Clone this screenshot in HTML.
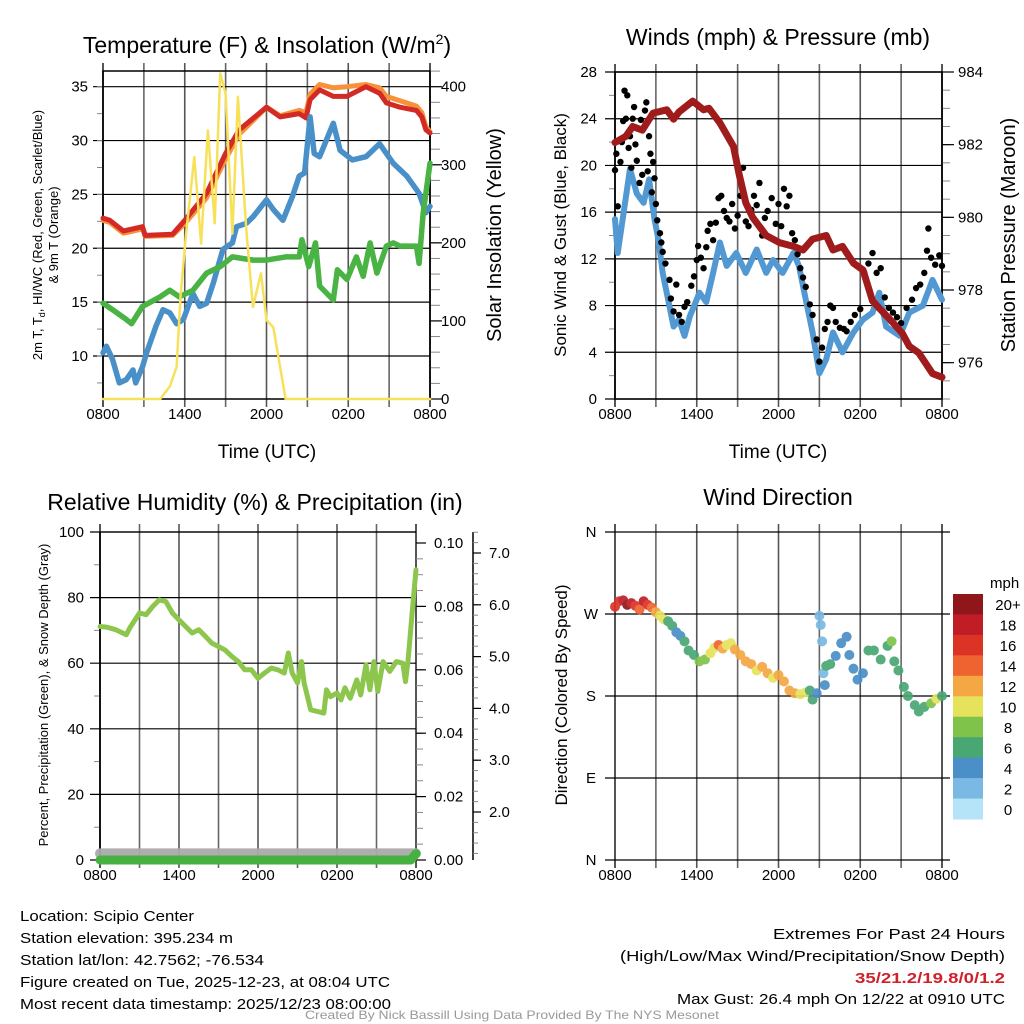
<!DOCTYPE html>
<html><head><meta charset="utf-8"><style>
html,body{margin:0;padding:0;background:#fff;}
svg{display:block;font-family:"Liberation Sans",sans-serif;}
</style></head><body>
<svg id="root" width="1024" height="1024" viewBox="0 0 1024 1024" xmlns="http://www.w3.org/2000/svg">
<g id="texts">
<text x="267" y="53" font-size="23" text-anchor="middle">Temperature (F) &amp; Insolation (W/m<tspan dy="-9" font-size="14">2</tspan><tspan dy="9">)</tspan></text>
<text x="778" y="45" font-size="23" text-anchor="middle">Winds (mph) &amp; Pressure (mb)</text>
<text x="255" y="510" font-size="23" text-anchor="middle">Relative Humidity (%) &amp; Precipitation (in)</text>
<text x="778" y="505" font-size="23" text-anchor="middle">Wind Direction</text>
<text x="267" y="458" font-size="19" text-anchor="middle">Time (UTC)</text>
<text x="778" y="458" font-size="19" text-anchor="middle">Time (UTC)</text>
<text transform="translate(42,235) rotate(-90)" font-size="13" text-anchor="middle">2m T, T<tspan font-size="9" dy="3">d</tspan><tspan dy="-3">, HI/WC (Red, Green, Scarlet/Blue)</tspan></text>
<text transform="translate(58,235) rotate(-90)" font-size="13" text-anchor="middle">&amp; 9m T (Orange)</text>
<text transform="translate(501,235) rotate(-90)" font-size="20" text-anchor="middle">Solar Insolation (Yellow)</text>
<text transform="translate(566,235) rotate(-90)" font-size="17" text-anchor="middle">Sonic Wind &amp; Gust (Blue, Black)</text>
<text transform="translate(1015,235) rotate(-90)" font-size="20" text-anchor="middle">Station Pressure (Maroon)</text>
<text transform="translate(48,695) rotate(-90)" font-size="13" text-anchor="middle">Percent, Precipitation (Green), &amp; Snow Depth (Gray)</text>
<text transform="translate(567,695) rotate(-90)" font-size="17" text-anchor="middle">Direction (Colored By Speed)</text>
<g font-size="15">
<text x="20" y="921" textLength="174" lengthAdjust="spacingAndGlyphs">Location: Scipio Center</text>
<text x="20" y="943" textLength="213" lengthAdjust="spacingAndGlyphs">Station elevation: 395.234 m</text>
<text x="20" y="965" textLength="244" lengthAdjust="spacingAndGlyphs">Station lat/lon: 42.7562; -76.534</text>
<text x="20" y="987" textLength="370" lengthAdjust="spacingAndGlyphs">Figure created on Tue, 2025-12-23, at 08:04 UTC</text>
<text x="20" y="1009" textLength="371" lengthAdjust="spacingAndGlyphs">Most recent data timestamp: 2025/12/23 08:00:00</text>
</g>
<g font-size="15" text-anchor="end">
<text x="1005" y="939" textLength="232" lengthAdjust="spacingAndGlyphs">Extremes For Past 24 Hours</text>
<text x="1005" y="961" textLength="385" lengthAdjust="spacingAndGlyphs">(High/Low/Max Wind/Precipitation/Snow Depth)</text>
<text x="1005" y="983" fill="#d0212a" font-weight="bold" textLength="150" lengthAdjust="spacingAndGlyphs">35/21.2/19.8/0/1.2</text>
<text x="1005" y="1004" textLength="328" lengthAdjust="spacingAndGlyphs">Max Gust: 26.4 mph On 12/22 at 0910 UTC</text>
</g>
<text x="512" y="1019" font-size="12" fill="#999" text-anchor="middle" textLength="414" lengthAdjust="spacingAndGlyphs">Created By Nick Bassill Using Data Provided By The NYS Mesonet</text>
</g>
</svg>
<script>
// ---------- data ----------
const xTickHours=[0,6,12,18,24];
const xTickLabels=["0800","1400","2000","0200","0800"];
const tempTicks=[10,15,20,25,30,35];
const solarTicks=[0,100,200,300,400];
const windTicks=[0,4,8,12,16,20,24,28];
const presTicks=[976,978,980,982,984];
const rhTicks=[0,20,40,60,80,100];
const precipTicks=["0.00","0.02","0.04","0.06","0.08","0.10"];
const snowTicks=["2.0","3.0","4.0","5.0","6.0","7.0"];
const dirTicks=["N","E","S","W","N"];

const redH=[0,0.5,1.5,2.9,3.1,5.1,6,7.6,9,10,12,13,14.4,14.9,15.2,15.9,16.9,17.9,19.3,20.3,20.8,21.8,23,23.4,23.7,24];
const redT=[22.8,22.6,21.6,22.0,21.2,21.3,22.6,25.1,28.8,31,33.1,32.2,32.5,32.1,33.8,34.7,34.1,34.1,35,34.4,33.5,33.1,32.8,32.2,31,30.7];
const orH=[0,0.5,1.5,2.9,3.1,5.1,6,7.6,9,10,12,13,14.4,14.9,15.2,15.9,16.9,17.9,19.3,20.3,20.8,21.8,23,23.4,23.7,24];
const orT=[22.6,22.4,21.4,21.8,21.1,21.2,22.3,24.7,28.3,30.6,33.1,32.3,32.8,32.6,34.3,35.2,34.9,35,35.2,34.9,34.1,33.7,33.2,32.6,31.3,30.8];
const dewH=[0,0.25,0.7,1.2,1.7,2.2,2.4,2.9,3.2,3.9,4.4,4.9,5.4,5.9,6.6,7.1,7.6,8.1,8.8,9.5,9.8,10.5,11,12,12.5,13.2,13.9,14.4,14.8,15.2,15.5,15.9,16.9,17.4,18.3,19.3,20.3,21.3,22.3,23.2,23.7,24];
const dewT=[10.3,10.9,9.7,7.5,7.8,8.7,7.5,9,10.3,12.8,14.3,14,13,13.4,15.8,14.6,14.9,16.8,19.9,20.5,22,22.3,22.9,24.5,23.6,22.6,24.8,26.7,27,32.2,28.8,28.5,31.6,29.1,28.2,28.5,29.7,27.9,26.7,25.1,23.3,23.9];
const hiH=[0,0.7,1.7,2.1,2.9,4.2,4.9,5.6,6.6,7.6,8.6,9.5,11,12,13.4,14.4,14.6,15.1,15.6,15.9,16.9,17.2,17.9,18.6,19.1,19.6,20.1,20.8,21.3,21.8,23,23.2,23.5,24];
const hiT=[14.9,14.3,13.4,13,14.6,15.5,16.1,15.5,16.1,17.7,18.3,19.2,18.9,18.9,19.2,19.2,20.8,18.3,20.5,16.5,15.2,18,17.1,19.2,17.4,20.5,17.7,20.2,20.5,20.2,20.2,18.6,23.3,27.9];
const solH=[0,4.2,4.9,5.4,5.7,6.1,6.7,7.2,7.7,8.2,8.6,9.0,9.5,9.9,10.5,11,11.6,12,12.5,13.4,24];
const solW=[0,0,16,41,135,212,310,199,344,225,417,391,212,387,220,118,161,101,92,0,0];

const presH=[0,0.8,1.3,2,2.8,3.8,4.3,4.7,5.7,6.5,6.9,7.7,8.7,9.1,9.6,10.1,11.1,12.1,13.1,13.8,14.5,15.5,16,16.7,17.5,18.2,18.9,19.4,20.4,21.1,21.6,22.3,23.3,24];
const presMb=[982.06,982.23,982.5,982.4,982.87,982.96,982.7,982.9,983.2,982.96,983,982.6,981.95,981.2,980.4,980.0,979.5,979.3,979.2,979.1,979.4,979.5,979.1,979.2,978.74,978.55,977.7,977.5,977.1,976.8,976.45,976.27,975.7,975.6];
const windH=[0,0.2,0.6,1.1,1.6,2.1,2.5,2.9,3.2,3.5,4.3,4.7,5.1,5.5,6.2,6.7,7.2,7.7,8.2,8.9,9.6,10.4,11.1,11.6,12.3,13.1,13.5,14,14.5,15,15.5,16,16.7,17.5,18.2,18.9,19.4,19.9,20.9,21.6,22.6,23.3,24];
const windMph=[15.4,12.5,15.7,19.7,17.6,16.8,18.8,15.4,13.6,10.8,6.2,6.8,5.4,7.1,9.1,8.3,10.8,13.4,11.4,12.5,10.8,12.8,10.8,11.9,10.8,12.5,11.4,8.5,5.7,2.2,3.4,5.7,4,5.7,6.8,7.4,9.1,6.2,5.4,7.4,8,10.2,8.5];
const gustH=[0,0.1,0.2,0.4,0.5,0.6,0.7,0.8,0.9,1.0,1.1,1.2,1.3,1.4,1.5,1.6,1.8,1.9,2.0,2.2,2.3,2.4,2.5,2.6,2.7,2.8,2.9,3.0,3.1,3.3,3.4,3.5,3.7,4.0,4.1,4.3,4.5,4.7,4.9,5.1,5.3,5.6,5.8,6.0,6.1,6.3,6.5,6.7,6.8,7.0,7.2,7.4,7.6,7.8,8.0,8.2,8.4,8.6,8.8,9.0,9.2,9.4,9.6,9.8,10.0,10.2,10.4,10.6,10.8,11.0,11.2,11.5,11.8,12.0,12.2,12.4,12.6,12.8,13.0,13.2,13.4,13.6,13.8,14.0,14.3,14.5,14.8,15.0,15.2,15.4,15.6,15.8,16.0,16.2,16.5,16.8,17.0,17.3,17.6,18.0,18.3,18.6,18.9,19.2,19.5,19.8,20.1,20.4,20.7,21.0,21.4,21.8,22.1,22.4,22.7,22.9,23.0,23.2,23.5,23.8,24];
const gustMph=[19.6,21,16.5,20.3,22,23.8,26.4,24,26,21.5,22.5,19.8,24,25,21.8,20.4,18.5,23.9,19.2,24.7,25.4,19.5,22.5,21,17.7,20.3,18.9,16.7,15.3,14.2,13.4,12.6,11.6,10.2,8.6,7.5,9.8,7.2,6.6,7.9,8.3,9.7,10.5,11.9,13.1,12.1,11.2,13,14.4,15,13.6,15.1,17.2,17.4,16.1,15.5,15.2,16.7,14.6,15.7,17.4,19.8,15.2,14.8,16.2,17.4,16.6,18.5,14,15.5,16.1,17.2,15,16.7,14.8,18,16.5,17.4,14.2,13.6,12.4,11.2,10.4,9.6,8.1,7.2,5.1,3.2,4.4,6,6.6,8,7.8,6.6,6.1,6,5.8,6.6,7.2,7.7,10.8,11.6,12.5,10.8,11.2,8.7,7.8,7.4,7,6.5,7.8,8.5,9.5,9.8,10.8,12.7,14.6,12.1,11.5,12.3,11.4];

const rhH=[0,0.5,1.2,2,2.3,3,3.5,4,4.5,5,5.5,6,6.5,7,7.5,8,8.5,9,9.5,10,10.5,11,11.5,12,12.5,13,13.5,14,14.3,14.6,15,15.3,15.5,16,16.5,17,17.2,17.5,18,18.3,18.6,19,19.5,19.8,20.2,20.5,20.8,21.1,21.5,22,22.5,23,23.2,23.4,23.7,24];
const rhPct=[71.2,71,70.2,68.7,71,75.3,74.8,77.3,79.3,78.8,75.3,73.2,71.2,69.2,70.2,68.2,66.1,65.1,64,62.1,60.5,58,58,55.4,57,58.5,58,57,63.1,57,54,60.5,54,45.8,45.3,44.8,51.9,49.8,50.9,48.8,52.5,49.3,54.9,50.3,59.5,51.9,60.5,51.4,60.5,57.5,60.5,60,54.4,60.9,75.3,88.5];
const precipH=[0,23.6,24];
const precipIn=[0,0,0.002];
const snowH=[0,24];
const snowIn=[1.2,1.2];

const dirH=[0,0.3,0.6,0.9,1.2,1.5,1.8,2.1,2.4,2.7,3.0,3.3,3.6,3.9,4.2,4.5,4.8,5.1,5.4,5.8,6.2,6.6,7.0,7.3,7.6,7.9,8.2,8.5,8.8,9.2,9.6,10,10.4,10.8,11.2,11.6,12,12.4,12.8,13.2,13.6,14,14.3,14.5,14.8,15.0,15.1,15.2,15.3,15.4,15.5,15.8,16.2,16.6,17.0,17.2,17.5,17.8,18.2,18.6,19.0,19.5,20.0,20.3,20.5,20.8,21.2,21.5,22.0,22.3,22.7,23.2,23.6,24];
const dirDeg=[278,284,285,280,282,279,275,284,280,277,272,268,264,262,257,250,246,240,230,225,218,220,227,233,236,232,236,238,231,225,218,215,208,212,205,200,203,196,186,183,182,184,186,176,183,268,258,240,205,192,213,215,224,238,245,225,210,198,205,230,230,220,235,240,218,208,190,180,170,163,168,172,177,180];
const dirSpd=[16,17,18,20,19,17,15,18,16,15,13,10,10,7,6,4,5,6,6,7,8,8,10,11,14,12,10,10,12,12,12,12,11,12,12,11,12,12,12,12,11,10,7,6,5,2,2,2,2,4,6,6,4,4,4,4,4,4,5,6,6,7,7,8,6,6,6,6,6,6,7,8,10,7];
const cbLabels=["20+","18","16","14","12","10","8","6","4","2","0"];
const cbColors=["#901719","#c01d27","#dc3327","#ee632f","#f5a744","#e7e25b","#80c34a","#49a773","#4a8fc7","#7ab9e3","#b5e3f8"];

// ---------- helpers ----------
const NS="http://www.w3.org/2000/svg";
const root=document.getElementById('root');
function mk(tag,attrs,parent){const e=document.createElementNS(NS,tag);for(const k in attrs)e.setAttribute(k,attrs[k]);(parent||root).appendChild(e);return e;}
function lin(d0,d1,r0,r1){return v=>r0+(v-d0)*(r1-r0)/(d1-d0);}
function pathOf(xs,ys,sx,sy){return xs.map((x,i)=>(i?'L':'M')+sx(x).toFixed(1)+','+sy(ys[i]).toFixed(1)).join('');}

function frame(P,name){
  const g=mk('g',{});
  
  
  for(let h=0;h<=24;h+=3){
    const l=mk('line',{x1:P.sx(h),x2:P.sx(h),y1:P.y0-8,y2:P.y1+8,stroke:(h%6==0?'#555':'#666'),'stroke-width':(h==0||h==24)?2:1.6},g);
    
    
  }
  xTickHours.forEach((h,i)=>{
    const t=mk('text',{x:P.sx(h),y:P.y1+20,'font-size':15,'text-anchor':'middle'},g);
    t.textContent=xTickLabels[i];
    
    
  });
  return g;
}
function hgrid(g,P,ys,syf){ys.forEach(v=>{const l=mk('line',{x1:P.x0-10,x2:P.x1+(P.rightExt||0),y1:syf(v),y2:syf(v),stroke:'#000','stroke-width':1.2},g);
  
  });}
function ylabels(g,x,ys,labels,syf,anchor){ys.forEach((v,i)=>{const t=mk('text',{x:x,y:syf(v)+5,'font-size':15,'text-anchor':anchor},g);t.textContent=labels[i];
  
  });}
function minor(g,x,len,vals,syf){vals.forEach(v=>{mk('line',{x1:x,x2:x+len,y1:syf(v),y2:syf(v),stroke:'#888','stroke-width':1},g);});}
function range(a,b,s){const r=[];for(let v=a;v<=b+1e-9;v+=s)r.push(+v.toFixed(3));return r;}
function series(d,color,w,name,opts){const p=mk('path',Object.assign({d:d,fill:'none',stroke:color,'stroke-width':w,'stroke-linejoin':'round','stroke-linecap':'round'},opts||{}));
  
  return p;}

// ---------- Panel 1: temperature ----------
(function(){
  const P={x0:103,x1:430,y0:71,y1:399};
  P.sx=lin(0,24,P.x0,P.x1);
  const sy=lin(10,35,356,86.7);
  const ss=lin(0,400,399,86.7);
  const g=frame(P,'temp');
  hgrid(g,P,tempTicks,sy);
  ylabels(g,88,tempTicks,tempTicks.map(String),sy,'end');
  minor(g,P.x0-6,6,range(7.5,35,2.5),sy);
  minor(g,P.x1,10,range(0,420,20),ss);
  solarTicks.forEach(v=>mk('line',{x1:P.x1,x2:P.x1+12,y1:ss(v),y2:ss(v),stroke:'#000','stroke-width':1.2},g));
  ylabels(g,441,solarTicks,solarTicks.map(String),ss,'start');
  mk('rect',{x:P.x0,y:P.y0,width:P.x1-P.x0,height:P.y1-P.y0,fill:'none',stroke:'#000','stroke-width':1.5},g);
  series(pathOf(orH,orT,P.sx,sy),'#f7913a',5,'9m-temp-line');
  series(pathOf(redH,redT,P.sx,sy),'#d42a26',5,'2m-temp-line');
  series(pathOf(dewH,dewT,P.sx,sy),'#4a90c8',5.5,'windchill-line');
  series(pathOf(hiH,hiT,P.sx,sy),'#49b344',5.5,'dewpoint-line');
  series(pathOf(solH,solW,P.sx,ss),'#f8e15a',2.5,'solar-line');
})();

// ---------- Panel 2: winds ----------
(function(){
  const P={x0:615,x1:942,y0:72,y1:399};
  P.sx=lin(0,24,P.x0,P.x1);
  const sy=lin(0,28,399,72);
  const sp=lin(975,984,399,72);
  const g=frame(P,'wind');
  hgrid(g,P,windTicks,sy);
  ylabels(g,597,windTicks,windTicks.map(String),sy,'end');
  minor(g,P.x0-6,6,range(2,26,4),sy);
  minor(g,P.x1,8,range(975,984,0.5),sp);
  presTicks.forEach(v=>mk('line',{x1:P.x1,x2:P.x1+12,y1:sp(v),y2:sp(v),stroke:'#000','stroke-width':1.2},g));
  ylabels(g,958,presTicks,presTicks.map(String),sp,'start');
  mk('rect',{x:P.x0,y:P.y0,width:P.x1-P.x0,height:P.y1-P.y0,fill:'none',stroke:'#000','stroke-width':1.5},g);
  series(pathOf(windH,windMph,P.sx,sy),'#5299d3',6,'sonic-wind-line');
  const gg=mk('g',{fill:'#000'});
  
  
  gustH.forEach((h,i)=>{mk('circle',{cx:P.sx(h),cy:sy(gustMph[i]),r:3.2},gg);});
  series(pathOf(presH,presMb,P.sx,sp),'#a01c1c',7,'pressure-line');
})();

// ---------- Panel 3: RH ----------
(function(){
  const P={x0:100,x1:416,y0:532,y1:860};
  P.sx=lin(0,24,P.x0,P.x1);
  const sy=lin(0,100,860,532);
  const spc=lin(0,0.1,860,543);
  const ssn=lin(2,7,812,553);
  const g=frame(P,'rh');
  hgrid(g,P,rhTicks,sy);
  ylabels(g,84,rhTicks,rhTicks.map(String),sy,'end');
  minor(g,P.x0-6,6,range(10,90,20),sy);
  minor(g,P.x1,7,range(0,0.1,0.005),spc);
  precipTicks.forEach(v=>mk('line',{x1:P.x1,x2:P.x1+10,y1:spc(+v),y2:spc(+v),stroke:'#000','stroke-width':1.2},g));
  ylabels(g,434,precipTicks.map(Number),precipTicks,spc,'start');
  mk('line',{x1:473,x2:473,y1:532,y2:860,stroke:'#000','stroke-width':1.5},g);
  minor(g,473,5,range(1.2,7.4,0.2),ssn);
  snowTicks.forEach(v=>mk('line',{x1:473,x2:481,y1:ssn(+v),y2:ssn(+v),stroke:'#000','stroke-width':1.2},g));
  ylabels(g,489,snowTicks.map(Number),snowTicks,ssn,'start');
  mk('line',{x1:P.x0,x2:P.x0,y1:P.y0,y2:P.y1,stroke:'#000','stroke-width':1.5},g);
  mk('line',{x1:P.x0,x2:P.x1,y1:P.y0,y2:P.y0,stroke:'#000','stroke-width':1.2},g);
  series(pathOf(snowH,snowIn,P.sx,ssn),'#aaaaaa',10,'snow-depth-line',{opacity:0.95});
  series(pathOf(precipH,precipIn,P.sx,spc),'#46b040',9,'precip-line');
  series(pathOf(rhH,rhPct,P.sx,sy),'#8dc64c',5,'rh-line');
})();

// ---------- Panel 4: direction ----------
(function(){
  const P={x0:615,x1:942,y0:532,y1:860};
  P.sx=lin(0,24,P.x0,P.x1);
  const sy=lin(0,360,860,532);
  const g=frame(P,'direction');
  P.rightExt=8;
  hgrid(g,P,[0,90,180,270,360],sy);
  ylabels(g,591,[0,90,180,270,360],dirTicks,sy,'middle');
  const gd=mk('g',{opacity:0.92});
  
  
  dirH.forEach((h,i)=>{
    const s=dirSpd[i];const bin=Math.min(10,Math.floor(s/2));
    mk('circle',{cx:P.sx(h),cy:sy(dirDeg[i]),r:5,fill:cbColors[10-bin]},gd);
  });
  const cb=mk('g',{});
  
  
  const t=mk('text',{x:990,y:588,'font-size':15,'text-anchor':'start'},cb);t.textContent='mph';
  const bh=225/11;
  cbColors.forEach((c,i)=>{
    mk('rect',{x:953,y:594+i*bh,width:30,height:bh+0.5,fill:c},cb);
    const l=mk('text',{x:1008,y:594+i*bh+bh/2+6,'font-size':15,'text-anchor':'middle'},cb);
    l.textContent=cbLabels[i];
    
    
  });
})();
</script>
</body></html>
